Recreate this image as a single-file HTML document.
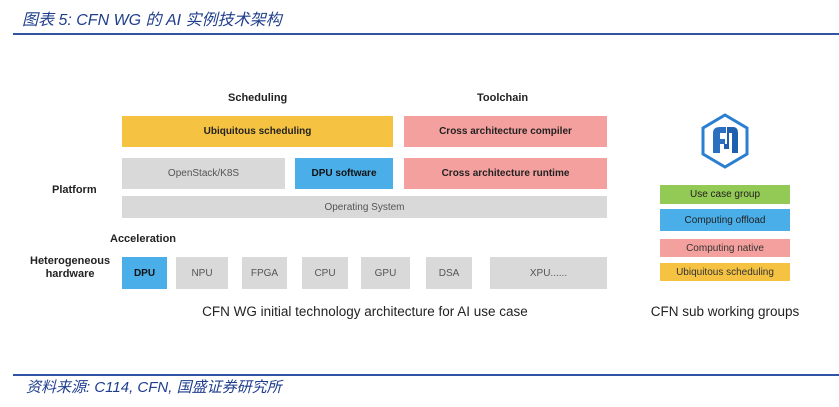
<!DOCTYPE html>
<html><head><meta charset="utf-8"><style>
body{margin:0;width:839px;height:407px;background:#fff;position:relative;overflow:hidden;font-family:"Liberation Sans","Noto Sans CJK SC",sans-serif;}
.a{position:absolute;display:flex;align-items:center;justify-content:center;font-size:10px;color:#555;}
.g{background:#d9d9d9;}
.y{background:#f5c242;color:#222;font-weight:bold;}
.p{background:#f4a09e;color:#222;font-weight:bold;}
.b{background:#4aaee8;color:#111;font-weight:bold;}
.l{position:absolute;font-size:11px;font-weight:bold;color:#222;}
.t{position:absolute;font-style:italic;color:#1f3e8c;font-family:"Liberation Sans","Noto Sans CJK SC",sans-serif;}
</style></head><body>
<div class="t" style="left:22px;top:6px;font-size:16px;">图表 5:  CFN WG 的 AI 实例技术架构</div>
<div style="position:absolute;left:13px;top:33px;width:826px;height:2px;background:#2f54a6"></div>
<div style="position:absolute;left:13px;top:374px;width:826px;height:2px;background:#2f54a6"></div>
<div class="t" style="left:26px;top:376px;font-size:15px;">资料来源:  C114,  CFN,  国盛证券研究所</div>

<div class="l" style="left:228px;top:92px;">Scheduling</div>
<div class="l" style="left:477px;top:92px;">Toolchain</div>
<div class="l" style="left:52px;top:184px;">Platform</div>
<div class="l" style="left:110px;top:233px;">Acceleration</div>
<div class="l" style="left:30px;top:255px;text-align:center;line-height:13px;">Heterogeneous<br>hardware</div>

<div class="a y" style="left:122px;top:116px;width:271px;height:31px;">Ubiquitous scheduling</div>
<div class="a p" style="left:404px;top:116px;width:203px;height:31px;">Cross architecture compiler</div>
<div class="a g" style="left:122px;top:158px;width:163px;height:31px;">OpenStack/K8S</div>
<div class="a b" style="left:295px;top:158px;width:98px;height:31px;">DPU software</div>
<div class="a p" style="left:404px;top:158px;width:203px;height:31px;">Cross architecture runtime</div>
<div class="a g" style="left:122px;top:196px;width:485px;height:22px;">Operating System</div>

<div class="a b" style="left:122px;top:257px;width:45px;height:32px;">DPU</div>
<div class="a g" style="left:176px;top:257px;width:52px;height:32px;">NPU</div>
<div class="a g" style="left:242px;top:257px;width:45px;height:32px;">FPGA</div>
<div class="a g" style="left:302px;top:257px;width:46px;height:32px;">CPU</div>
<div class="a g" style="left:361px;top:257px;width:49px;height:32px;">GPU</div>
<div class="a g" style="left:426px;top:257px;width:46px;height:32px;">DSA</div>
<div class="a g" style="left:490px;top:257px;width:117px;height:32px;">XPU......</div>

<div class="a" style="left:150px;top:302px;width:430px;height:18px;font-size:13.5px;color:#222;">CFN WG initial technology architecture for AI use case</div>
<div class="a" style="left:640px;top:302px;width:170px;height:18px;font-size:13.5px;color:#222;">CFN sub working groups</div>

<svg style="position:absolute;left:700px;top:113px" width="50" height="56" viewBox="0 0 50 56">
<polygon points="25,2 47,15 47,41 25,54 3,41 3,15" fill="none" stroke="#2a7fd0" stroke-width="3"/>
<path d="M13,40 V20 Q13,14 20,14 H26 V20 H20 V26 H25 V31 H20 V40Z" fill="#2a6fc0"/>
<path d="M27,14 H33 Q38,14 38,20 V40 H32 V20 H29 V36 H24 V31 H27Z" fill="#1f5fb0"/>
</svg>

<div class="a" style="left:660px;top:185px;width:130px;height:19px;background:#93c955;color:#222;">Use case group</div>
<div class="a" style="left:660px;top:209px;width:130px;height:22px;background:#4aaee8;color:#222;">Computing offload</div>
<div class="a" style="left:660px;top:239px;width:130px;height:18px;background:#f4a09e;color:#333;">Computing native</div>
<div class="a" style="left:660px;top:263px;width:130px;height:18px;background:#f5c242;color:#333;">Ubiquitous scheduling</div>
</body></html>
